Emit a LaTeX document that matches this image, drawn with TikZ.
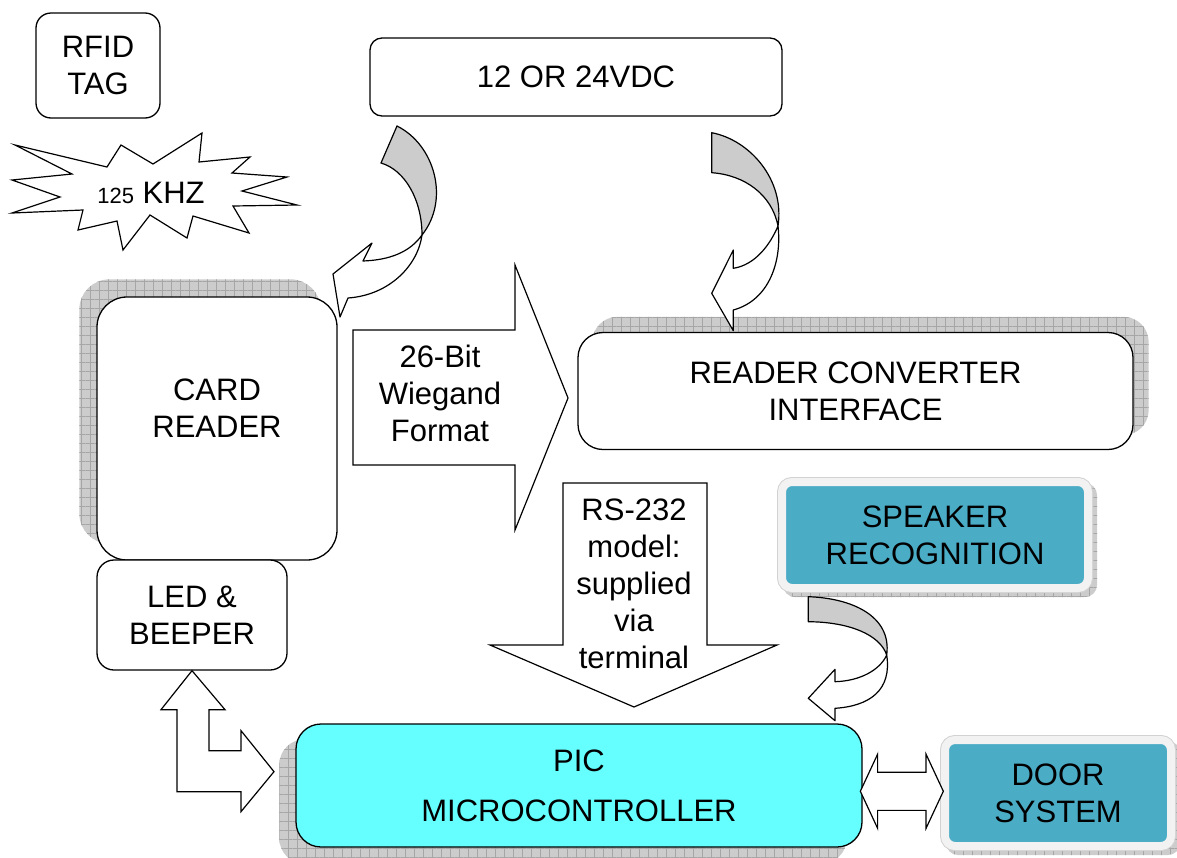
\documentclass[tikz,border=0pt]{standalone}
\usepackage{fontspec}
\setmainfont{Liberation Sans}
\usetikzlibrary{calc,backgrounds,patterns.meta,shapes.arrows}

\definecolor{tealfill}{HTML}{4BACC6}
\definecolor{picfill}{HTML}{66FFFF}
\definecolor{rimgray}{HTML}{F2F2F2}
\newcommand{\diagfont}{\fontsize{31}{37}\selectfont}

\begin{document}
\begin{tikzpicture}[x=1pt,y=-1pt,
        every node/.style={font=\diagfont,align=center,inner sep=0pt},
        plainbox/.style={draw,line width=1.3pt,fill=white,rounded corners=#1},
        tealbox/.style={draw=rimgray,line width=8pt,fill=tealfill,rounded corners=10pt,
            preaction={draw=gray!35,line width=10pt}},
        gridshadow/.style={fill=gray!40,
            postaction={pattern={Lines[angle=0,distance=9pt,line width=.5pt]},pattern color=gray!70},
            postaction={pattern={Lines[angle=90,distance=9pt,line width=.5pt]},pattern color=gray!70}},
        bandback/.style={draw,line width=1.2pt,fill=gray!40,line join=round},
        bandfront/.style={draw,line width=1.2pt,fill=white,line join=round},
        blockarrow/.style={draw,line width=1.2pt,fill=white}]

    \useasboundingbox (0,0) rectangle (1177,857);

    % boxes
    \node[plainbox=15pt,minimum width=124pt,minimum height=105pt] (tag) at (98,65.5) {RFID\\TAG};
    \node[plainbox=12pt,minimum width=412pt,minimum height=78pt] (supply) at (576,77) {12 OR 24VDC};
    \node[plainbox=30pt,minimum width=240pt,minimum height=263pt] (card) at (217,428.5) {};
    \node (cardtxt) at (217,408) {CARD\\READER};
    \node[plainbox=17pt,minimum width=190pt,minimum height=110pt] (led) at (192,615) {LED \&\\BEEPER};
    \node[plainbox=25pt,minimum width=555pt,minimum height=117pt] (conv) at (855.5,391) {READER CONVERTER\\INTERFACE};
    \node[tealbox,minimum width=306pt,minimum height=106pt] (spk) at (935,535) {SPEAKER\\RECOGNITION};
    \node[plainbox=25pt,fill=picfill,minimum width=566pt,minimum height=123pt] (pic) at (579,785.5) {PIC\\[13pt]MICROCONTROLLER};
    \node[tealbox,minimum width=226pt,minimum height=106pt] (door) at (1058,793) {DOOR\\SYSTEM};

    % shadows
    \begin{scope}[on background layer]
        \path[gridshadow,rounded corners=30pt] ($(card.north west)+(-17,-17)$) rectangle ($(card.south east)+(-17,-17)$);
        \path[gridshadow,rounded corners=25pt] ($(conv.north west)+(15,-15)$) rectangle ($(conv.south east)+(15,-15)$);
        \path[gridshadow,rounded corners=25pt] ($(pic.north west)+(-16,16)$) rectangle ($(pic.south east)+(-16,16)$);
        \path[gridshadow,rounded corners=12pt] ($(spk.north west)+(5,5)$) rectangle ($(spk.south east)+(5,5)$);
        \path[gridshadow,rounded corners=12pt] ($(door.north west)+(5,5)$) rectangle ($(door.south east)+(5,5)$);
    \end{scope}

    % 125 KHZ burst
    \draw[line width=1.2pt,fill=white] (15,145) -- (107,167) -- (121,145) -- (153,164) -- (202,133)
        -- (199,162) -- (250,157) -- (232,173) -- (287,177) -- (242,191) -- (297,205) -- (233,206)
        -- (249,233) -- (193,216) -- (187,238) -- (150,215) -- (123,250) -- (117,221) -- (78,230)
        -- (83,210) -- (12,213) -- (60,197) -- (12,180) -- (72,174) -- cycle;
    \node (burst) at (151,193) {{\fontsize{22}{26}\selectfont 125} KHZ};

    % curved arrows
    \draw[bandback] (397,126) .. controls (435,145) and (450,200) .. (422,235)
        .. controls (422,200) and (405,170) .. (381,163) -- cycle;
    \draw[bandfront] (422,235) .. controls (410,252) and (390,260) .. (363,261) -- (372,243)
        -- (333,274) -- (340,317) -- (348,298) .. controls (390,295) and (418,265) .. (422,235) -- cycle;

    \draw[bandback] (711.7,132.7) .. controls (750,140) and (785,180) .. (778,226)
        .. controls (772,195) and (745,175) .. (711.7,172.7) -- cycle;
    \draw[bandfront] (778,226) .. controls (770,245) and (755,265) .. (733.3,268.3) -- (733.3,250)
        -- (711.7,293.3) -- (733.3,330.7) -- (733.3,310) .. controls (770,300) and (782,260) .. (778,226) -- cycle;

    \draw[bandback] (808.3,596.7) .. controls (850,598) and (892,615) .. (886.7,655)
        .. controls (880,635) and (850,622) .. (808.3,621.7) -- cycle;
    \draw[bandfront] (886.7,655) .. controls (880,670) and (860,681) .. (835,681.7) -- (835,669.3)
        -- (808.3,698.3) -- (835,720.7) -- (835,708.3) .. controls (870,706) and (892,690) .. (886.7,655) -- cycle;

    % block arrows
    \draw[blockarrow] (353,330) -- (515,330) -- (515,265) -- (568,398) -- (515,530) -- (515,465) -- (353,465) -- cycle;
    \node (wieg) at (440,393) {26-Bit\\Wiegand\\Format};

    \draw[blockarrow] (563,483) -- (707,483) -- (707,645) -- (777,645) -- (634,707) -- (490,645) -- (563,645) -- cycle;
    \node (rs) at (634,584) {RS-232\\model:\\supplied\\via\\terminal};

    \draw[blockarrow] (led.south) -- ++(33,39) -- ++(-16,0) -- ++(0,41) -- ++(32,0) -- ++(0,-20)
        -- ++(33,41) -- ++(-33,40) -- ++(0,-20) -- ++(-64,0) -- ++(0,-82) -- ++(-16,0) -- cycle;

    \node[double arrow,draw,line width=1.2pt,fill=white,inner xsep=0pt,inner ysep=18.5pt,
        minimum height=83pt,double arrow head extend=18pt,double arrow tip angle=130]
        (link) at ($(pic.east)!.5!(door.west)+(0,2)$) {};
\end{tikzpicture}
\end{document}
